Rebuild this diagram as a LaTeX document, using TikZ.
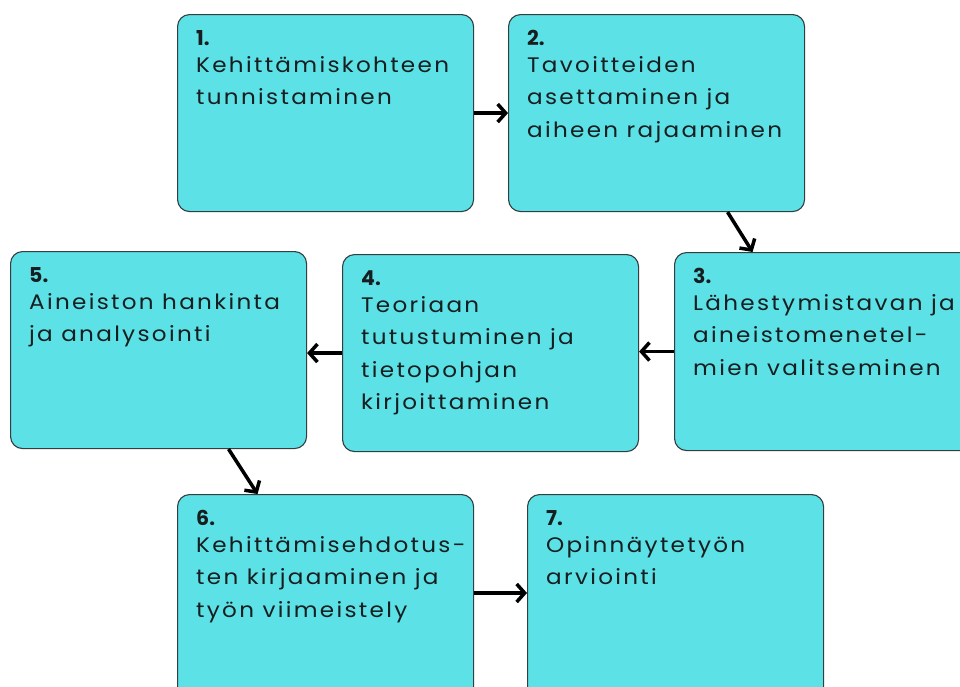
\documentclass[tikz,border=0pt]{standalone}
\usepackage{fontspec}
\setmainfont[LetterSpace=11,FakeStretch=1.1]{Poppins}
\newfontfamily\numfont{Poppins}
\usetikzlibrary{arrows.meta}
\definecolor{boxfill}{HTML}{5CE1E6}
\definecolor{boxline}{RGB}{50,62,64}
\definecolor{txt}{RGB}{22,30,32}
\tikzset{
  stepbox/.style={draw=boxline, line width=1.1pt, fill=boxfill, rounded corners=12pt,
    minimum width=296pt, minimum height=197pt, anchor=north west, inner sep=0pt},
  boxtext/.style={anchor=north west, inner sep=0pt, align=left, text=txt,
    font=\fontsize{21}{32.5}\selectfont},
  flow/.style={line width=3.5pt, -{Straight Barb[length=8pt,width=18pt,line width=3.5pt]}}
}
\newcommand{\numln}[1]{\rule{0pt}{20pt}{\numfont\bfseries\fontsize{20.5}{32.5}\selectfont #1}\\[-5.5pt]}
\begin{document}
\begin{tikzpicture}[x=1pt,y=-1pt]
\useasboundingbox (0,0) rectangle (960,686);
\clip (0,0) rectangle (960,686);
\node[stepbox] (b1) at (177,14) {};
\node[stepbox] (b2) at (508,14) {};
\node[stepbox, minimum width=310pt, minimum height=198pt] (b3) at (674,252) {};
\node[stepbox] (b4) at (342,254) {};
\node[stepbox] (b5) at (10,251) {};
\node[stepbox, minimum height=210pt] (b6) at (177,494) {};
\node[stepbox, minimum height=210pt] (b7) at (527,494) {};

\node[boxtext] (t1) at (196,25) {\numln{1.}Kehittämiskohteen\\tunnistaminen};
\node[boxtext] (t2) at (527,25) {\numln{2.}Tavoitteiden\\asettaminen ja\\aiheen rajaaminen};
\node[boxtext] (t3) at (693,263) {\numln{3.}Lähestymistavan ja\\aineistomenetel-\\mien valitseminen};
\node[boxtext] (t4) at (361,265) {\numln{4.}Teoriaan\\tutustuminen ja\\tietopohjan\\kirjoittaminen};
\node[boxtext] (t5) at (29,262) {\numln{5.}Aineiston hankinta\\ja analysointi};
\node[boxtext] (t6) at (196,505) {\numln{6.}Kehittämisehdotus-\\ten kirjaaminen ja\\työn viimeistely};
\node[boxtext] (t7) at (546,505) {\numln{7.}Opinnäytetyön\\arviointi};

\draw[flow] (b1.east) -- (b2.west);
\draw[flow] ([xshift=71pt]b2.south) -- ([xshift=-77pt]b3.north);
\draw[flow] (b3.west) -- (b4.east |- b3.west);
\draw[flow] (b4.west) -- (b5.east |- b4.west);
\draw[flow] ([xshift=70pt]b5.south) -- ([xshift=-68pt]b6.north);
\draw[flow] (b6.east |- 0,593) -- (b7.west |- 0,593);
\end{tikzpicture}
\end{document}
